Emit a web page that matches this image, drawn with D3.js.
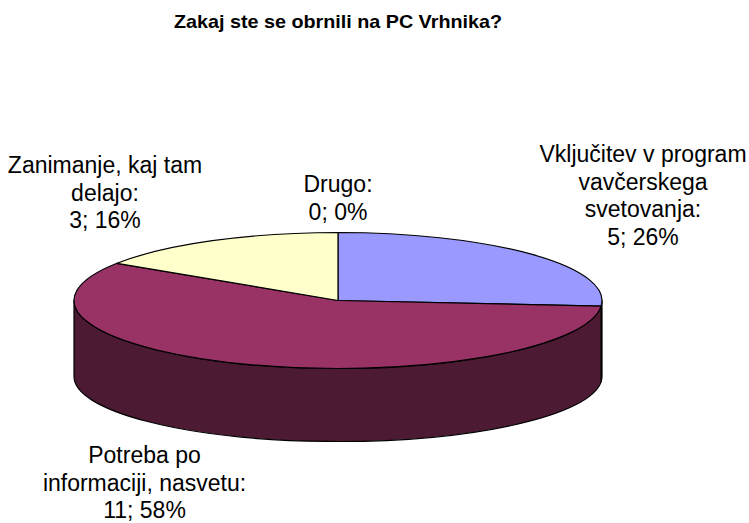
<!DOCTYPE html>
<html>
<head>
<meta charset="utf-8">
<script src="https://d3js.org/d3.v7.min.js"></script>
<style>
    html, body { margin: 0; padding: 0; background: #fff; }
    svg { display: block; }
    text { font-family: "Liberation Sans", Arial, sans-serif; fill: #000; }
</style>
</head>
<body>
<svg width="749" height="523"></svg>
<script>
    // order is clockwise from 12 o'clock, like the original
    var categories = ["Vključitev v program vavčerskega svetovanja", "Potreba po informaciji, nasvetu", "Zanimanje, kaj tam delajo", "Drugo"];
    var values = [5, 11, 3, 0];
    var percents = [26, 58, 16, 0];
    var topColors = ["#9999ff", "#993366", "#ffffcc", "#660066"];
    var sideColors = ["#4d4d80", "#4d1a33", "#808066", "#330033"];
    var labelLines = [
        ["Vključitev v program", "vavčerskega", "svetovanja:", "5; 26%"],
        ["Potreba po", "informaciji, nasvetu:", "11; 58%"],
        ["Zanimanje, kaj tam", "delajo:", "3; 16%"],
        ["Drugo:", "0; 0%"]
    ];
    var labelPos = [[643, 162], [144.5, 463], [105, 173], [338, 192]];

    var width = 749, height = 523;
    var cx = 338, cy = 300.5, rx = 264, ry = 68, depth = 76, bottomRy = 65;
    var fontSize = 23, lineHeight = 27.6;

    var svg = d3.select("svg").attr("viewBox", [0, 0, width, height]);

    // the original title is a bit stretched sideways
    svg.append("text")
        .attr("x", 338)
        .attr("y", 28)
        .attr("text-anchor", "middle")
        .attr("font-weight", "bold")
        .attr("font-size", 18.5)
        .attr("textLength", 328)
        .attr("lengthAdjust", "spacingAndGlyphs")
        .text("Zakaj ste se obrnili na PC Vrhnika?");

    var slices = d3.pie().sort(null).value(d => d)(values);

    // point on the tilted rim for a pie angle
    function px(a) { return cx + rx * Math.sin(a); }
    function py(a) { return cy - ry * Math.cos(a); }
    function pyBottom(a) { return cy + depth - bottomRy * Math.cos(a); }

    // side wall, only the front half of the ellipse can be seen
    function wall(d) {
        var a0 = Math.max(d.startAngle, Math.PI / 2);
        var a1 = Math.min(d.endAngle, Math.PI * 3 / 2);
        if (a1 <= a0) return null;
        return "M" + px(a0) + "," + py(a0) +
            "A" + rx + "," + ry + " 0 0 1 " + px(a1) + "," + py(a1) +
            "L" + px(a1) + "," + pyBottom(a1) +
            "A" + rx + "," + bottomRy + " 0 0 0 " + px(a0) + "," + pyBottom(a0) + "Z";
    }

    svg.append("g")
        .selectAll("path")
        .data(slices.filter(d => wall(d)))
        .join("path")
        .attr("d", wall)
        .attr("fill", d => sideColors[d.index])
        .attr("stroke", "#000")
        .attr("stroke-width", 1.2)
        .attr("stroke-linejoin", "round");

    var arc = d3.arc().innerRadius(0).outerRadius(rx);

    svg.append("g")
        .attr("transform", `translate(${cx},${cy}) scale(1,${ry / rx})`)
        .selectAll("path")
        .data(slices.filter(d => d.value > 0))
        .join("path")
        .attr("d", arc)
        .attr("fill", d => topColors[d.index])
        .attr("stroke", "#000")
        .attr("stroke-width", 1.2)
        .attr("stroke-linejoin", "round")
        .attr("vector-effect", "non-scaling-stroke");

    var labels = svg.append("g")
        .selectAll("text")
        .data(labelLines)
        .join("text")
        .attr("text-anchor", "middle")
        .attr("font-size", fontSize)
        .attr("transform", (d, i) => `translate(${labelPos[i][0]},${labelPos[i][1]})`);

    labels.selectAll("tspan")
        .data(d => d)
        .join("tspan")
        .attr("x", 0)
        .attr("y", (d, i) => i * lineHeight)
        .text(d => d);
</script>
</body>
</html>
